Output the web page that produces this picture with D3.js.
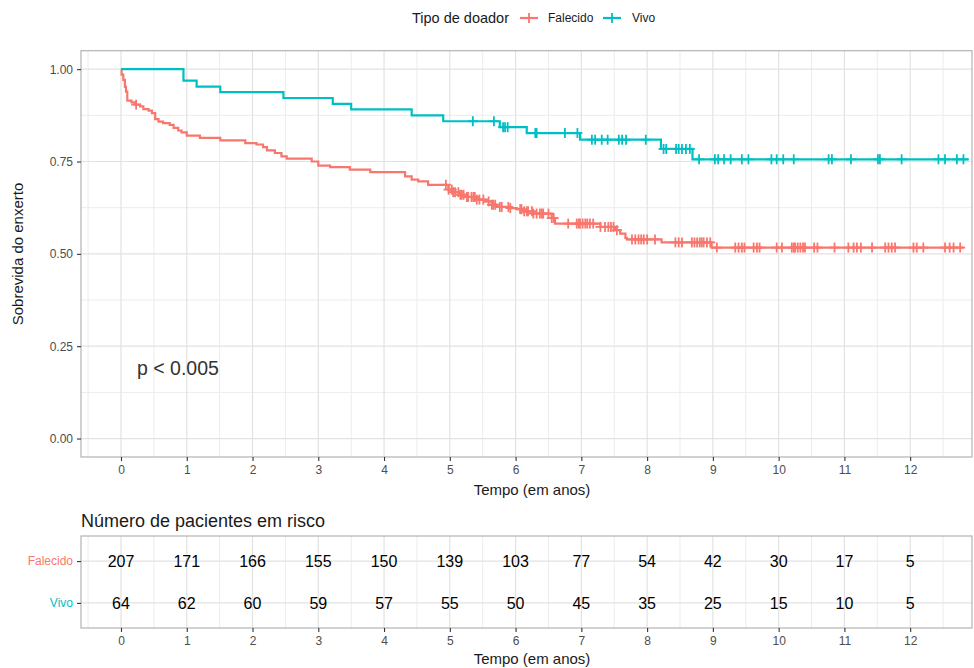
<!DOCTYPE html>
<html>
<head>
<meta charset="utf-8">
<script src="https://cdn.jsdelivr.net/npm/d3@7"></script>
<style>
  body { margin: 0; background: #fff; }
  svg text { font-family: "Liberation Sans", Arial, sans-serif; }
</style>
</head>
<body>
<div id="chart"></div>
<script>
// survival steps (time in years, survival after the drop)
const falecidoTimes = [0, 0.01, 0.035, 0.06, 0.076, 0.096, 0.16, 0.21, 0.29, 0.34, 0.42, 0.47, 0.52, 0.57, 0.64, 0.74, 0.80, 0.87, 0.92, 1.00, 1.20, 1.51, 1.89, 2.06, 2.16, 2.22, 2.34, 2.44, 2.52, 2.90, 3.00, 3.18, 3.48, 3.79, 4.32, 4.42, 4.52, 4.67, 4.98, 5.05, 5.16, 5.26, 5.41, 5.54, 5.64, 5.71, 5.92, 6.02, 6.12, 6.27, 6.55, 6.60, 7.29, 7.51, 7.59, 7.67, 7.69, 8.22, 8.98];
const falecidoSurv = [1.0, 0.985, 0.971, 0.952, 0.939, 0.915, 0.910, 0.904, 0.899, 0.892, 0.888, 0.881, 0.865, 0.858, 0.854, 0.849, 0.841, 0.834, 0.829, 0.820, 0.814, 0.807, 0.800, 0.796, 0.789, 0.780, 0.773, 0.764, 0.758, 0.750, 0.739, 0.735, 0.728, 0.721, 0.710, 0.701, 0.696, 0.687, 0.674, 0.667, 0.660, 0.654, 0.647, 0.642, 0.633, 0.627, 0.624, 0.621, 0.615, 0.609, 0.597, 0.582, 0.573, 0.564, 0.555, 0.543, 0.539, 0.531, 0.517];
const falecidoEnd = 12.81;
const falecidoCensor = [0.23, 4.94, 4.98, 5.03, 5.05, 5.08, 5.13, 5.16, 5.18, 5.21, 5.26, 5.28, 5.33, 5.36, 5.38, 5.41, 5.45, 5.51, 5.59, 5.64, 5.66, 5.69, 5.76, 5.79, 5.89, 5.92, 6.07, 6.09, 6.13, 6.17, 6.19, 6.25, 6.27, 6.32, 6.37, 6.40, 6.42, 6.50, 6.55, 6.58, 6.80, 6.93, 6.96, 6.98, 7.02, 7.06, 7.09, 7.13, 7.18, 7.29, 7.36, 7.41, 7.45, 7.49, 7.54, 7.77, 7.82, 7.87, 7.91, 7.95, 8.00, 8.12, 8.43, 8.48, 8.53, 8.68, 8.72, 8.76, 8.80, 8.83, 8.86, 8.91, 8.96, 9.06, 9.34, 9.39, 9.44, 9.48, 9.62, 9.67, 9.71, 9.97, 10.05, 10.20, 10.23, 10.25, 10.29, 10.33, 10.37, 10.40, 10.54, 10.59, 10.85, 11.06, 11.14, 11.19, 11.25, 11.42, 11.62, 11.67, 11.72, 11.77, 12.05, 12.10, 12.20, 12.53, 12.60, 12.66, 12.76];

const vivoTimes = [0, 0.95, 1.15, 1.51, 2.47, 3.22, 3.50, 4.42, 4.90, 5.76, 6.17, 6.98, 8.21, 8.69];
const vivoSurv = [1.0, 0.969, 0.953, 0.938, 0.922, 0.906, 0.891, 0.875, 0.859, 0.843, 0.827, 0.809, 0.784, 0.756];
const vivoEnd = 12.89;
const vivoCensor = [5.35, 5.67, 5.81, 5.84, 5.88, 6.30, 6.32, 6.75, 6.94, 7.16, 7.21, 7.31, 7.40, 7.57, 7.62, 7.68, 7.98, 8.25, 8.29, 8.44, 8.48, 8.53, 8.59, 8.65, 8.79, 9.03, 9.08, 9.17, 9.27, 9.44, 9.54, 9.89, 9.97, 10.07, 10.23, 10.76, 10.81, 11.10, 11.51, 11.54, 11.87, 12.43, 12.53, 12.71, 12.81];

const groups = ["Falecido", "Vivo"];
const colors = ["#F8766D", "#00BFC4"];
const xTicks = [0, 1, 2, 3, 4, 5, 6, 7, 8, 9, 10, 11, 12];
const yTicks = [0, 0.25, 0.5, 0.75, 1.0];
const riskFalecido = [207, 171, 166, 155, 150, 139, 103, 77, 54, 42, 30, 17, 5];
const riskVivo = [64, 62, 60, 59, 57, 55, 50, 45, 35, 25, 15, 10, 5];

const W = 974, H = 668;
const svg = d3.select("#chart").append("svg").attr("width", W).attr("height", H);

const x = d3.scaleLinear().domain([-0.608, 12.94]).range([81, 972]);
const y = d3.scaleLinear().domain([-0.05, 1.05]).range([457, 50.7]);
const color = d3.scaleOrdinal().domain(groups).range(colors);

const gridMajor = "#e2e2e2", gridMinor = "#ececec", border = "#b3b3b3", tickCol = "#4d4d4d";

// ----- main panel grid
const main = svg.append("g");
const xMinor = d3.range(-0.5, 13, 1);
const yMinor = [0.125, 0.375, 0.625, 0.875];
main.selectAll(".xminor").data(xMinor).join("line")
  .attr("x1", d => x(d)).attr("x2", d => x(d)).attr("y1", y.range()[0]).attr("y2", y.range()[1])
  .attr("stroke", gridMinor).attr("stroke-width", 1);
main.selectAll(".yminor").data(yMinor).join("line")
  .attr("x1", x.range()[0]).attr("x2", x.range()[1]).attr("y1", d => y(d)).attr("y2", d => y(d))
  .attr("stroke", gridMinor).attr("stroke-width", 1);
main.selectAll(".xmajor").data(xTicks).join("line")
  .attr("x1", d => x(d)).attr("x2", d => x(d)).attr("y1", y.range()[0]).attr("y2", y.range()[1])
  .attr("stroke", gridMajor).attr("stroke-width", 1.2);
main.selectAll(".ymajor").data(yTicks).join("line")
  .attr("x1", x.range()[0]).attr("x2", x.range()[1]).attr("y1", d => y(d)).attr("y2", d => y(d))
  .attr("stroke", gridMajor).attr("stroke-width", 1.2);

// ----- curves
function stepAt(times, surv, t) {
  let s = surv[0];
  for (let i = 0; i < times.length; i++) if (times[i] <= t) s = surv[i];
  return s;
}
const series = [
  { name: "Falecido", times: falecidoTimes, surv: falecidoSurv, end: falecidoEnd, censor: falecidoCensor },
  { name: "Vivo", times: vivoTimes, surv: vivoSurv, end: vivoEnd, censor: vivoCensor }
];
const line = d3.line().x(d => x(d[0])).y(d => y(d[1])).curve(d3.curveStepAfter);

series.forEach(s => {
  const pts = s.times.map((t, i) => [t, s.surv[i]]);
  pts.push([s.end, s.surv[s.surv.length - 1]]);
  main.append("path").datum(pts).attr("d", line)
    .attr("fill", "none").attr("stroke", color(s.name)).attr("stroke-width", 2.2);
  const cg = main.append("g").attr("stroke", color(s.name)).attr("stroke-width", 1.8);
  s.censor.forEach(t => {
    const cx = x(t), cy = y(stepAt(s.times, s.surv, t));
    cg.append("line").attr("x1", cx - 5).attr("x2", cx + 5).attr("y1", cy).attr("y2", cy);
    cg.append("line").attr("x1", cx).attr("x2", cx).attr("y1", cy - 5).attr("y2", cy + 5);
  });
});

// border + axes
main.append("rect").attr("x", x.range()[0]).attr("y", y.range()[1])
  .attr("width", x.range()[1] - x.range()[0]).attr("height", y.range()[0] - y.range()[1])
  .attr("fill", "none").attr("stroke", border).attr("stroke-width", 1.2);

function styleAxis(g) {
  g.select(".domain").remove();
  g.selectAll(".tick line").attr("stroke", "#333").attr("stroke-width", 1.1);
  g.selectAll(".tick text").attr("fill", tickCol).attr("font-size", 12)
    .attr("font-family", "Liberation Sans, Arial, sans-serif");
}
main.append("g").attr("transform", `translate(0,${y.range()[0]})`)
  .call(d3.axisBottom(x).tickValues(xTicks).tickFormat(d3.format("d")).tickSize(4).tickPadding(4))
  .call(styleAxis);
main.append("g").attr("transform", `translate(${x.range()[0]},0)`)
  .call(d3.axisLeft(y).tickValues(yTicks).tickFormat(d3.format(".2f")).tickSize(4).tickPadding(4))
  .call(styleAxis);

svg.append("text").attr("x", 532).attr("y", 495).attr("text-anchor", "middle")
  .attr("font-size", 15).attr("fill", "#1a1a1a").text("Tempo (em anos)");
svg.append("text").attr("transform", "translate(23,254) rotate(-90)").attr("text-anchor", "middle")
  .attr("font-size", 15).attr("fill", "#1a1a1a").text("Sobrevida do enxerto");
svg.append("text").attr("x", 137).attr("y", 375).attr("font-size", 19.5).attr("fill", "#333")
  .text("p < 0.005");

// ----- legend
const legend = svg.append("g");
legend.append("text").attr("x", 412).attr("y", 23).attr("font-size", 14.5).attr("fill", "#1a1a1a").text("Tipo de doador");
const legendKeys = [{ name: "Falecido", x0: 520, tx: 548 }, { name: "Vivo", x0: 603, tx: 632 }];
legendKeys.forEach(k => {
  const c = color(k.name);
  legend.append("line").attr("x1", k.x0).attr("x2", k.x0 + 18).attr("y1", 18).attr("y2", 18)
    .attr("stroke", c).attr("stroke-width", 2.2);
  legend.append("line").attr("x1", k.x0 + 9).attr("x2", k.x0 + 9).attr("y1", 13).attr("y2", 23)
    .attr("stroke", c).attr("stroke-width", 1.8);
  legend.append("text").attr("x", k.tx).attr("y", 22).attr("font-size", 12).attr("fill", "#1a1a1a").text(k.name);
});

// ----- risk table
const ty = d3.scalePoint().domain(groups).range([536, 628]).padding(0.6);
const tab = svg.append("g");
tab.selectAll(".txminor").data(xMinor).join("line")
  .attr("x1", d => x(d)).attr("x2", d => x(d)).attr("y1", 536).attr("y2", 628)
  .attr("stroke", gridMinor).attr("stroke-width", 1);
tab.selectAll(".txmajor").data(xTicks).join("line")
  .attr("x1", d => x(d)).attr("x2", d => x(d)).attr("y1", 536).attr("y2", 628)
  .attr("stroke", gridMajor).attr("stroke-width", 1.2);
tab.selectAll(".tymajor").data(groups).join("line")
  .attr("x1", x.range()[0]).attr("x2", x.range()[1]).attr("y1", d => ty(d)).attr("y2", d => ty(d))
  .attr("stroke", gridMajor).attr("stroke-width", 1.2);
tab.append("rect").attr("x", x.range()[0]).attr("y", 536)
  .attr("width", x.range()[1] - x.range()[0]).attr("height", 92)
  .attr("fill", "none").attr("stroke", border).attr("stroke-width", 1.2);

const riskRows = [riskFalecido, riskVivo];
groups.forEach((gname, gi) => {
  tab.selectAll(".risk" + gi).data(riskRows[gi]).join("text")
    .attr("x", (d, i) => x(xTicks[i])).attr("y", ty(gname) + 6)
    .attr("text-anchor", "middle").attr("font-size", 16).attr("fill", "#000").text(d => d);
});

tab.append("g").attr("transform", "translate(0,628)")
  .call(d3.axisBottom(x).tickValues(xTicks).tickFormat(d3.format("d")).tickSize(4).tickPadding(4))
  .call(styleAxis);
const tyAxis = tab.append("g").attr("transform", `translate(${x.range()[0]},0)`)
  .call(d3.axisLeft(ty).tickSize(4).tickPadding(4)).call(styleAxis);
tyAxis.selectAll(".tick text").attr("fill", d => color(d));

svg.append("text").attr("x", 81).attr("y", 527).attr("font-size", 18).attr("fill", "#1a1a1a")
  .text("Número de pacientes em risco");
svg.append("text").attr("x", 532).attr("y", 664).attr("text-anchor", "middle")
  .attr("font-size", 15).attr("fill", "#1a1a1a").text("Tempo (em anos)");
</script>
</body>
</html>
